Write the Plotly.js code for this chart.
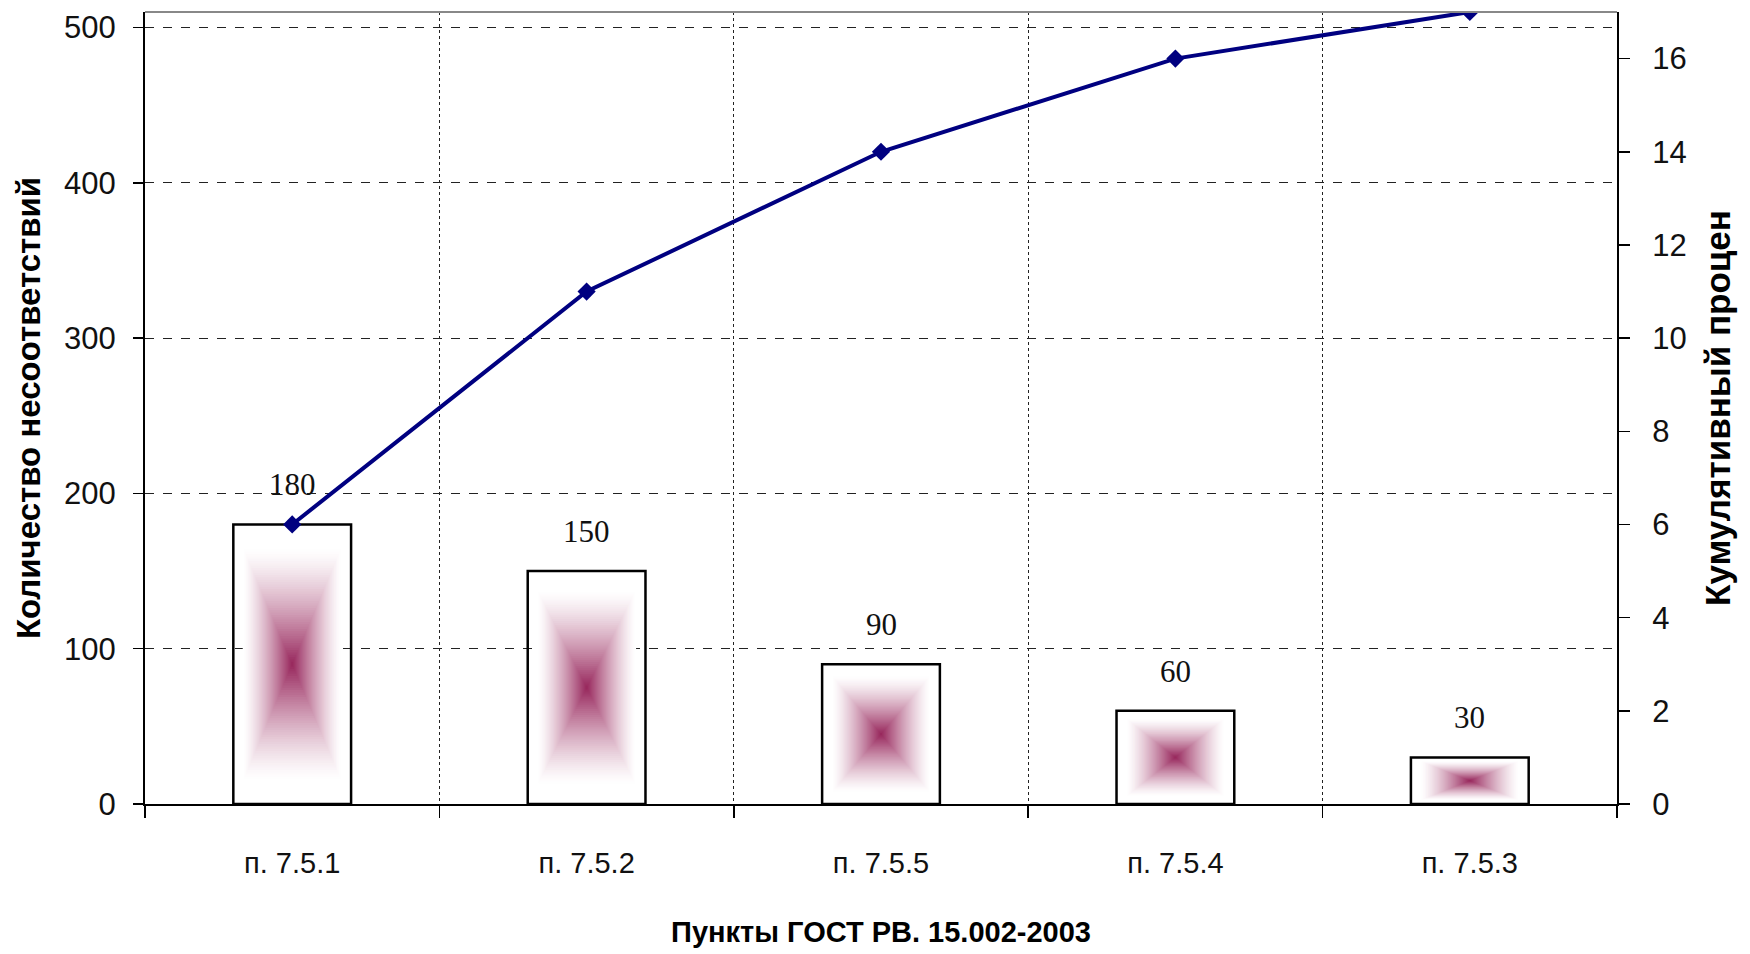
<!DOCTYPE html>
<html>
<head>
<meta charset="utf-8">
<script src="https://cdn.plot.ly/plotly-3.0.1.min.js"></script>
<style>html,body{margin:0;padding:0;background:#fff;}#chart{width:1750px;height:954px;}</style>
</head>
<body>
<div id="chart"></div>
<script>
// ---- data ----
const categories = ["п. 7.5.1", "п. 7.5.2", "п. 7.5.5", "п. 7.5.4", "п. 7.5.3"];
const counts = [180, 150, 90, 60, 30];
const cumulative = [6, 11, 14, 16, 17];
const leftTicks = [0, 100, 200, 300, 400, 500];
const rightTicks = [0, 2, 4, 6, 8, 10, 12, 14, 16];

// ---- styling ----
const barWidth = 0.4;
const darkRGB = [150, 36, 90];
const layers = 50;
const colorExtent = 0.84;

const traces = [];
// gradient layers (rectangular "from centre" fill)
for (let k = 0; k < layers; k++) {
  const t = colorExtent * (1 - k / layers);
  const f = 1 - t / colorExtent;
  const g = Math.pow(f, 1.35);
  const c = [0,1,2].map(i => Math.round(255 * (1 - g) + darkRGB[i] * g));
  traces.push({
    type: 'bar',
    x: categories,
    y: counts.map(v => v * t),
    base: counts.map(v => v * (1 - t) / 2),
    width: categories.map(() => barWidth * t),
    marker: {color: `rgb(${c[0]},${c[1]},${c[2]})`, line: {width: 0}},
    hoverinfo: 'skip',
    showlegend: false
  });
}
// outline bar
traces.push({
  type: 'bar',
  x: categories,
  y: counts,
  width: categories.map(() => barWidth),
  marker: {color: 'rgba(255,255,255,0)', line: {color: '#000', width: 2.5}},
  showlegend: false
});
// cumulative line
traces.push({
  type: 'scatter',
  mode: 'lines+markers',
  x: categories,
  y: cumulative,
  yaxis: 'y2',
  line: {color: '#000080', width: 4},
  marker: {symbol: 'diamond', size: 14, color: '#000080'},
  showlegend: false
});

const annotations = categories.map((c, i) => ({
  x: c, y: counts[i], xref: 'x', yref: 'y',
  text: String(counts[i]), showarrow: false,
  yanchor: 'bottom', yshift: 20,
  font: {family: 'Liberation Serif, Times New Roman, serif', size: 31, color: '#111'}
}));

const tickFont = {family: 'Liberation Sans, Arial, sans-serif', size: 31, color: '#111'};
const yTitleFont = {family: 'Liberation Sans, Arial, sans-serif', size: 33, color: '#000'};
const y2TitleFont = {family: 'Liberation Sans, Arial, sans-serif', size: 35, color: '#000'};
const xTitleFont = {family: 'Liberation Sans, Arial, sans-serif', size: 29, color: '#000'};

const layout = {
  width: 1750, height: 954,
  margin: {l: 145, r: 133, t: 12, b: 150},
  paper_bgcolor: '#fff', plot_bgcolor: '#fff',
  barmode: 'overlay',
  showlegend: false,
  xaxis: {
    type: 'category',
    tickson: 'boundaries',
    showgrid: true, gridcolor: '#222', gridwidth: 1, griddash: 'dot',
    showline: true, linecolor: '#000', linewidth: 2,
    ticks: 'outside', ticklen: 12, tickcolor: '#000', tickwidth: 1.5,
    tickfont: {family: 'Liberation Sans, Arial, sans-serif', size: 29, color: '#111'},
    ticklabelstandoff: 32,
    title: {text: '<b>Пункты ГОСТ РВ. 15.002-2003</b>', font: xTitleFont, standoff: 44},
    automargin: false,
    fixedrange: true
  },
  yaxis: {
    range: [0, 510],
    tickvals: leftTicks,
    showgrid: true, gridcolor: '#222', gridwidth: 1, griddash: 'dash',
    zeroline: false,
    showline: true, linecolor: '#000', linewidth: 2,
    ticks: 'outside', ticklen: 10, tickcolor: '#000', tickwidth: 1.5,
    tickfont: tickFont,
    ticklabelstandoff: 11,
    title: {text: '<b>Количество несоответствий</b>', font: yTitleFont, standoff: 14},
    automargin: false
  },
  yaxis2: {
    overlaying: 'y', side: 'right',
    range: [0, 17],
    tickvals: rightTicks,
    showgrid: false, zeroline: false,
    showline: true, linecolor: '#000', linewidth: 2,
    ticks: 'outside', ticklen: 11, tickcolor: '#000', tickwidth: 1.5,
    tickfont: tickFont,
    ticklabelstandoff: 16,
    title: {text: '<b>Кумулятивный процен</b>', font: y2TitleFont, standoff: 20},
    automargin: false
  },
  shapes: [{
    type: 'line', xref: 'paper', yref: 'paper', x0: 0, x1: 1, y0: 1, y1: 1,
    line: {color: '#888', width: 2}
  }],
  annotations: annotations
};

Plotly.newPlot('chart', traces, layout, {displayModeBar: false, staticPlot: true});
</script>
</body>
</html>
